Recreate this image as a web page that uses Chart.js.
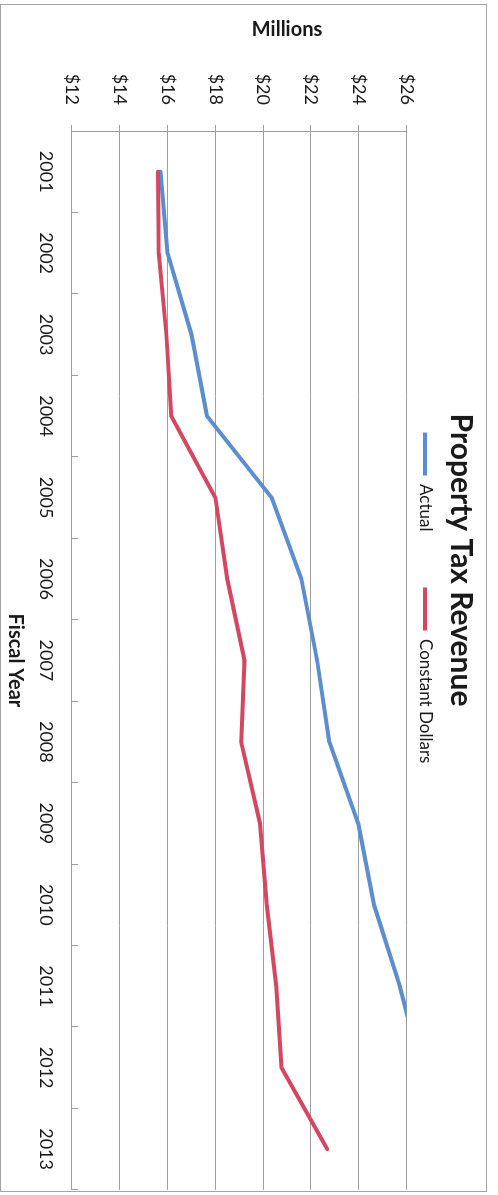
<!DOCTYPE html>
<html>
<head>
<meta charset="utf-8">
<title>Property Tax Revenue</title>
<script src="https://cdn.jsdelivr.net/npm/chart.js@4.4.1/dist/chart.umd.min.js"></script>
<style>
  html, body { margin: 0; padding: 0; background: #fff; overflow: hidden; }
  /* the printed chart is turned a quarter turn clockwise on the page */
  #page { position: absolute; left: 0; top: 0; width: 1195px; height: 498px;
          transform-origin: 0 0; transform: translate(498px, 0) rotate(90deg); }
  #frame { position: absolute; left: 4px; top: 11px; width: 1186px; height: 485px;
           border: 1px solid #a4a4a4; }
  canvas { display: block; }
</style>
</head>
<body>
<div id="page"><div id="frame"><canvas id="chart" width="1186" height="485"></canvas></div></div>
<script>
const years = ['2001', '2002', '2003', '2004', '2005', '2006', '2007', '2008', '2009', '2010', '2011', '2012', '2013'];
// $ millions (2012 actual runs past the $26 top and gets clipped)
const actual = [15.7, 16.0, 17.0, 17.65, 20.35, 21.6, 22.26, 22.77, 23.98, 24.64, 25.72, 26.6, null];
const constantDollars = [15.6, 15.63, 15.95, 16.15, 18.0, 18.5, 19.22, 19.08, 19.87, 20.15, 20.55, 20.77, 22.68];
const valueTicks = [12, 14, 16, 18, 20, 22, 24, 26];

const gridGray = '#9e9e9e';
const ink = '#1a1a1a';

Chart.defaults.font.family = 'Lato';
Chart.defaults.color = ink;

// title and "Millions" both sit off-centre in the original, so draw them here
const sheetText = {
  id: 'sheetText',
  afterDraw(chart) {
    const y = chart.scales.y;
    const ctx = chart.ctx;
    ctx.save();
    ctx.fillStyle = ink;
    ctx.textAlign = 'center';
    ctx.textBaseline = 'alphabetic';
    ctx.font = 'bold 30px Lato';
    ctx.fillText('Property Tax Revenue', chart.width * 0.468, 35);

    ctx.translate(y.left + 25, y.getPixelForValue(21));
    ctx.rotate(-Math.PI / 2);
    ctx.font = 'bold 20px Lato';
    ctx.textBaseline = 'middle';
    ctx.fillText('Millions', 0, 0);
    ctx.restore();
  }
};

const ctx = document.getElementById('chart');
const chart = new Chart(ctx, {
  type: 'line',
  data: {
    labels: years,
    datasets: [{
      label: 'Actual',
      data: actual,
      borderColor: '#5a8ecf',
      backgroundColor: '#5a8ecf',
      borderWidth: 4,
      pointRadius: 0,
      tension: 0,
      borderCapStyle: 'round',
      borderJoinStyle: 'round',
      clip: 0,
      order: 1
    }, {
      label: 'Constant Dollars',
      data: constantDollars,
      borderColor: '#d6475f',
      backgroundColor: '#d6475f',
      borderWidth: 4,
      pointRadius: 0,
      tension: 0,
      borderCapStyle: 'round',
      borderJoinStyle: 'round',
      clip: 0,
      order: 0
    }]
  },
  options: {
    responsive: false,
    animation: false,
    layout: { padding: { top: -3.5 } },
    plugins: {
      title: { display: false },
      legend: {
        position: 'top',
        labels: {
          boxWidth: 43,
          boxHeight: 4,
          padding: 56,
          font: { size: 17 },
          color: ink,
          generateLabels(chart) {
            const items = Chart.defaults.plugins.legend.labels.generateLabels(chart);
            items.forEach(it => { it.lineWidth = 0; });
            return items.sort((a, b) => a.datasetIndex - b.datasetIndex);
          }
        }
      },
      tooltip: { enabled: false }
    },
    scales: {
      x: {
        type: 'category',
        offset: true,
        afterFit(scale) { scale.height = 71; },
        grid: {
          display: true,
          offset: true,
          drawOnChartArea: false,
          drawTicks: true,
          tickLength: -6,
          color: gridGray,
          lineWidth: 1
        },
        border: { display: true, color: gridGray, width: 1 },
        ticks: { font: { size: 18 }, color: ink, padding: 21, maxRotation: 0, autoSkip: false },
        title: {
          display: true,
          text: 'Fiscal Year',
          font: { size: 20, weight: 'bold' },
          color: ink,
          padding: { top: 0, bottom: 2 }
        }
      },
      y: {
        min: valueTicks[0],
        max: valueTicks[valueTicks.length - 1],
        afterFit(scale) { scale.width = 126; },
        afterBuildTicks(scale) { scale.ticks = valueTicks.map(v => ({ value: v })); },
        grid: { color: gridGray, lineWidth: 1, tickLength: 6 },
        border: { display: true, color: gridGray, width: 1 },
        ticks: {
          font: { size: 18 },
          color: ink,
          padding: 20,
          callback: v => '$' + v
        }
      }
    }
  },
  plugins: [sheetText]
});
</script>
</body>
</html>
